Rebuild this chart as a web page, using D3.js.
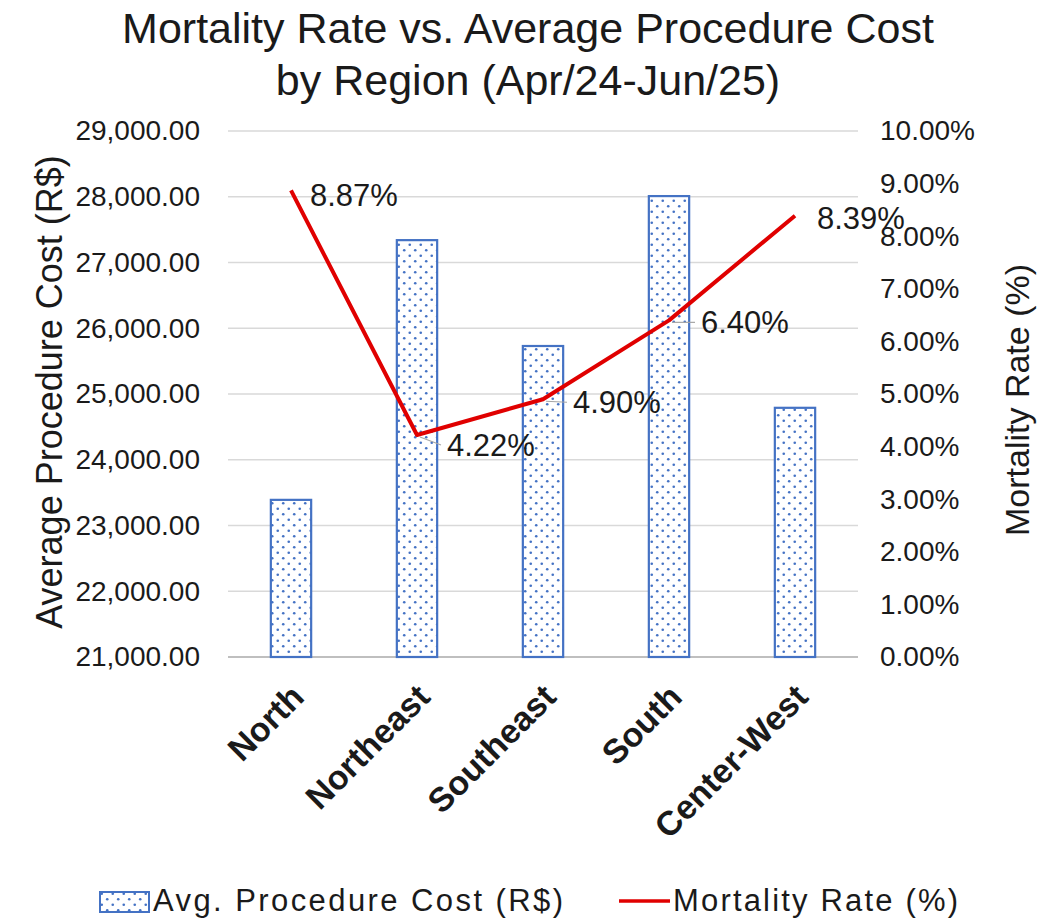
<!DOCTYPE html>
<html lang="en">
<head>
<meta charset="UTF-8">
<script src="https://d3js.org/d3.v7.min.js"></script>
<style>
  body { margin: 0; background: #fff; }
  text { font-family: "Liberation Sans", Arial, Helvetica, sans-serif; fill: #1a1a1a; }
</style>
</head>
<body>
<script>
// data
const regions = ["North", "Northeast", "Southeast", "South", "Center-West"];
const avgCost = [23390, 27340, 25730, 28010, 24790];
const mortality = [8.87, 4.22, 4.90, 6.40, 8.39];
const costTicks = [21000, 22000, 23000, 24000, 25000, 26000, 27000, 28000, 29000];
const rateTicks = [0, 1, 2, 3, 4, 5, 6, 7, 8, 9, 10];
// label nudges (Excel moved some of them, leaving leader lines)
const labelDx = [19, 30, 30, 32, 22];
const labelDy = [5, 10, 3, 2, 2];
const hasLeader = [false, true, true, true, false];

const W = 1060, H = 919;
const plot = { left: 228, right: 858, top: 131, bottom: 657 };
const blue = "#4472c4", red = "#e00000";

const svg = d3.select("body").append("svg")
    .attr("width", W).attr("height", H);

// dotted fill for the bars
const pat = svg.append("defs").append("pattern")
    .attr("id", "dots")
    .attr("patternUnits", "userSpaceOnUse")
    .attr("width", 11).attr("height", 11);
pat.append("rect").attr("width", 11).attr("height", 11).attr("fill", "#fff");
pat.append("circle").attr("cx", 2.75).attr("cy", 2.75).attr("r", 1.3).attr("fill", blue);
pat.append("circle").attr("cx", 8.25).attr("cy", 8.25).attr("r", 1.3).attr("fill", blue);

// scales
const x = d3.scaleBand().domain(regions)
    .range([plot.left, plot.right])
    .paddingInner(0.68).paddingOuter(0.34);
const yCost = d3.scaleLinear().domain([21000, 29000]).range([plot.bottom, plot.top]);
const yRate = d3.scaleLinear().domain([0, 10]).range([plot.bottom, plot.top]);
const xc = d => x(d) + x.bandwidth() / 2;

// title
const title = svg.append("text")
    .attr("text-anchor", "middle")
    .style("font-size", "43px");
title.append("tspan").attr("x", 528).attr("y", 43).text("Mortality Rate vs. Average Procedure Cost");
title.append("tspan").attr("x", 528).attr("y", 95).text("by Region (Apr/24-Jun/25)");

// gridlines
svg.append("g")
    .selectAll("line")
    .data(costTicks)
    .join("line")
    .attr("x1", plot.left).attr("x2", plot.right)
    .attr("y1", d => yCost(d)).attr("y2", d => yCost(d))
    .attr("stroke", d => d === 21000 ? "#bfbfbf" : "#d9d9d9")
    .attr("stroke-width", d => d === 21000 ? 2 : 1.5);

// left axis
const leftAxis = svg.append("g")
    .attr("transform", `translate(${plot.left},0)`)
    .call(d3.axisLeft(yCost).tickValues(costTicks).tickSize(0).tickPadding(28)
        .tickFormat(d3.format(",.2f")));
leftAxis.select(".domain").remove();
leftAxis.selectAll("text").style("font-size", "28px").attr("fill", "#1a1a1a")
    .attr("font-family", null);

// right axis
const rightAxis = svg.append("g")
    .attr("transform", `translate(${plot.right},0)`)
    .call(d3.axisRight(yRate).tickValues(rateTicks).tickSize(0).tickPadding(22)
        .tickFormat(d => d3.format(".2f")(d) + "%"));
rightAxis.select(".domain").remove();
rightAxis.selectAll("text").style("font-size", "28px").attr("fill", "#1a1a1a")
    .attr("font-family", null);

// axis titles
svg.append("text")
    .attr("transform", "translate(62,392) rotate(-90)")
    .attr("text-anchor", "middle")
    .style("font-size", "36px")
    .text("Average Procedure Cost (R$)");
svg.append("text")
    .attr("transform", "translate(1029,400) rotate(-90)")
    .attr("text-anchor", "middle")
    .style("font-size", "34px")
    .text("Mortality Rate (%)");

// bars
svg.append("g")
    .selectAll("rect")
    .data(regions)
    .join("rect")
    .attr("x", d => x(d))
    .attr("width", x.bandwidth())
    .attr("y", (d, i) => yCost(avgCost[i]))
    .attr("height", (d, i) => plot.bottom - yCost(avgCost[i]))
    .attr("fill", "url(#dots)")
    .attr("stroke", blue)
    .attr("stroke-width", 2.2);

// category labels
svg.append("g")
    .selectAll("text")
    .data(regions)
    .join("text")
    .attr("transform", d => `translate(${xc(d) + 15},${plot.bottom + 42}) rotate(-45)`)
    .attr("text-anchor", "end")
    .style("font-size", "34px")
    .style("font-weight", "bold")
    .text(d => d);

// mortality line
const line = d3.line()
    .x((d, i) => xc(regions[i]))
    .y(d => yRate(d));
svg.append("path")
    .datum(mortality)
    .attr("d", line)
    .attr("fill", "none")
    .attr("stroke", red)
    .attr("stroke-width", 4)
    .attr("stroke-linejoin", "round");

// leader lines
svg.append("g")
    .selectAll("line")
    .data(mortality.map((v, i) => i).filter(i => hasLeader[i]))
    .join("line")
    .attr("x1", i => xc(regions[i]) + 3)
    .attr("y1", i => yRate(mortality[i]) + 2)
    .attr("x2", i => xc(regions[i]) + labelDx[i] - 6)
    .attr("y2", i => yRate(mortality[i]) + labelDy[i])
    .attr("stroke", "#a6a6a6")
    .attr("stroke-width", 1.2);

// data labels
svg.append("g")
    .selectAll("text")
    .data(mortality)
    .join("text")
    .attr("x", (d, i) => xc(regions[i]) + labelDx[i])
    .attr("y", (d, i) => yRate(d) + labelDy[i])
    .attr("dy", "0.35em")
    .style("font-size", "31px")
    .text(d => d3.format(".2f")(d) + "%");

// legend
const legend = svg.append("g");
legend.append("rect")
    .attr("x", 100).attr("y", 892).attr("width", 49).attr("height", 20)
    .attr("fill", "url(#dots)").attr("stroke", blue).attr("stroke-width", 2);
legend.append("text")
    .attr("x", 153).attr("y", 911)
    .attr("textLength", 410).attr("lengthAdjust", "spacing")
    .style("font-size", "31px")
    .text("Avg. Procedure Cost (R$)");
legend.append("line")
    .attr("x1", 619).attr("x2", 670).attr("y1", 901).attr("y2", 901)
    .attr("stroke", red).attr("stroke-width", 3.5);
legend.append("text")
    .attr("x", 673).attr("y", 911)
    .attr("textLength", 285).attr("lengthAdjust", "spacing")
    .style("font-size", "31px")
    .text("Mortality Rate (%)");
</script>
</body>
</html>
